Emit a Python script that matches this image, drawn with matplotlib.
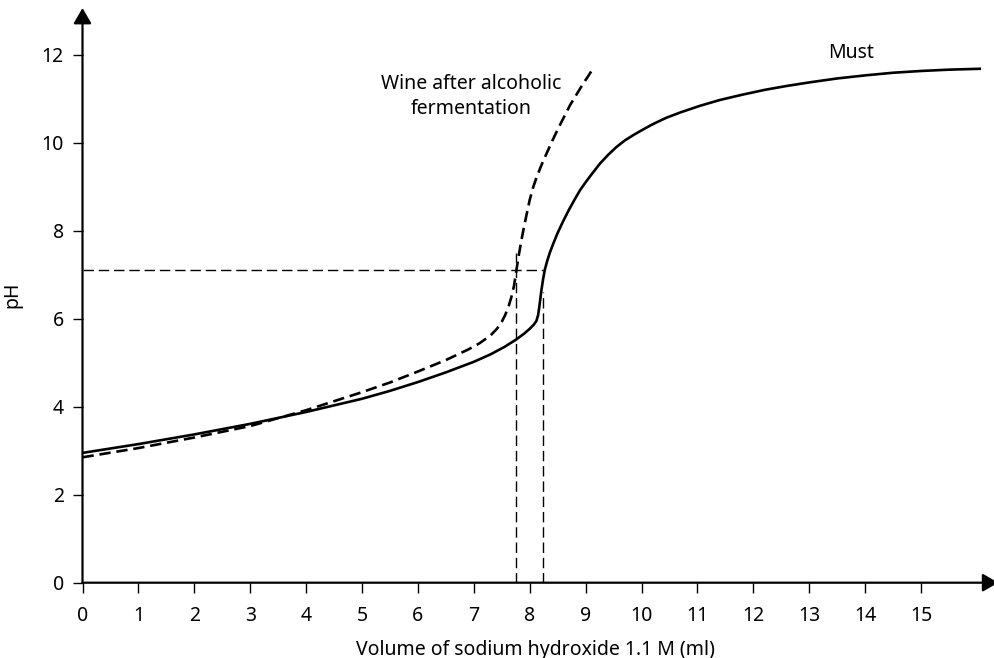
import matplotlib.pyplot as plt
import numpy as np

plt.rcParams['font.family'] = ['Noto Sans', 'DejaVu Sans']

# titration curves: pH against added NaOH volume (ml)
must_ml = [0, 1, 2, 3, 4, 5, 5.5, 6, 6.5, 7.0, 7.3, 7.55, 7.75, 7.9, 8.0, 8.07,
           8.12, 8.15, 8.17, 8.19, 8.21, 8.24, 8.27, 8.31, 8.36, 8.42, 8.5, 8.6,
           8.7, 8.8, 8.9, 9.0, 9.1, 9.26, 9.4, 9.55, 9.7, 9.85, 10.0, 10.2, 10.45,
           10.7, 11.05, 11.4, 11.8, 12.2, 12.6, 13.0, 13.5, 14.0, 14.5, 15.0,
           15.5, 16.05]
must_ph = [2.95, 3.15, 3.37, 3.61, 3.88, 4.18, 4.36, 4.56, 4.78, 5.02, 5.19, 5.36,
           5.52, 5.66, 5.77, 5.86, 5.95, 6.08, 6.25, 6.45, 6.65, 6.9, 7.11, 7.3,
           7.5, 7.7, 7.95, 8.22, 8.47, 8.7, 8.92, 9.1, 9.27, 9.53, 9.72, 9.9,
           10.05, 10.17, 10.28, 10.42, 10.57, 10.69, 10.84, 10.97, 11.09, 11.2,
           11.29, 11.37, 11.46, 11.53, 11.59, 11.63, 11.66, 11.68]

wine_ml = [0, 1, 2, 3, 4, 5, 5.5, 6, 6.5, 6.9, 7.1, 7.3, 7.42, 7.5, 7.56, 7.62,
           7.67, 7.72, 7.76, 7.8, 7.85, 7.9, 7.95, 8.0, 8.06, 8.12, 8.2, 8.3, 8.4,
           8.5, 8.6, 8.72, 8.84, 8.96, 9.04, 9.12]
wine_ph = [2.85, 3.06, 3.3, 3.56, 3.92, 4.33, 4.55, 4.8, 5.06, 5.3, 5.44, 5.62,
           5.78, 5.93, 6.08, 6.27, 6.48, 6.75, 7.08, 7.41, 7.77, 8.1, 8.4, 8.7,
           8.98, 9.2, 9.46, 9.75, 10.03, 10.3, 10.55, 10.85, 11.1, 11.35, 11.5,
           11.66]

# equivalence points
eq_ph = 7.1
eq_wine = 7.75
eq_must = 8.24

x_ticks = list(range(0, 16))
y_ticks = list(range(0, 13, 2))

fig = plt.figure(figsize=(9.94, 6.58), dpi=100)
ax = fig.add_axes([82.5 / 994, (658 - 582.7) / 658, 16.2 * 55.9 / 994, 13.1 * 44 / 658])
ax.set_xlim(0, 16.2)
ax.set_ylim(0, 13.1)

for s in ax.spines.values():
    s.set_visible(False)

# axes with arrow heads
arrow = dict(arrowstyle='-|>,head_length=0.67,head_width=0.39', lw=1.6, color='black',
             shrinkA=0, shrinkB=0, mutation_scale=14)
ax.annotate('', xy=(16.38, 0), xytext=(0, 0), arrowprops=arrow, annotation_clip=False)
ax.annotate('', xy=(0, 13.06), xytext=(0, 0), arrowprops=arrow, annotation_clip=False)

# guide lines to the equivalence points
guide = dict(color='black', lw=1.0, dashes=(7.5, 3.5))
ax.plot([0, eq_must], [eq_ph, eq_ph], **guide)
ax.plot([eq_wine, eq_wine], [0, 7.5], **guide)
ax.plot([eq_must, eq_must], [0, 6.6], **guide)

ax.plot(must_ml, must_ph, color='black', lw=1.9, solid_joinstyle='round')
ax.plot(wine_ml, wine_ph, color='black', lw=1.9, dashes=(4.3, 2.2))

ax.text(6.95, 11.05, 'Wine after alcoholic\nfermentation', ha='center', va='center',
        fontsize=14, linespacing=1.35)
ax.text(13.75, 12.03, 'Must', ha='center', va='center', fontsize=14)

ax.set_xticks(x_ticks)
ax.set_yticks(y_ticks)
ax.tick_params(axis='both', direction='out', length=7.5, width=1.0, labelsize=14)
ax.tick_params(axis='x', pad=9)
ax.tick_params(axis='y', pad=6)
ax.set_xlabel('Volume of sodium hydroxide 1.1 M (ml)', fontsize=14, labelpad=10)
ax.set_ylabel('pH', fontsize=14, labelpad=14)

fig.savefig('out.png', dpi=100)
